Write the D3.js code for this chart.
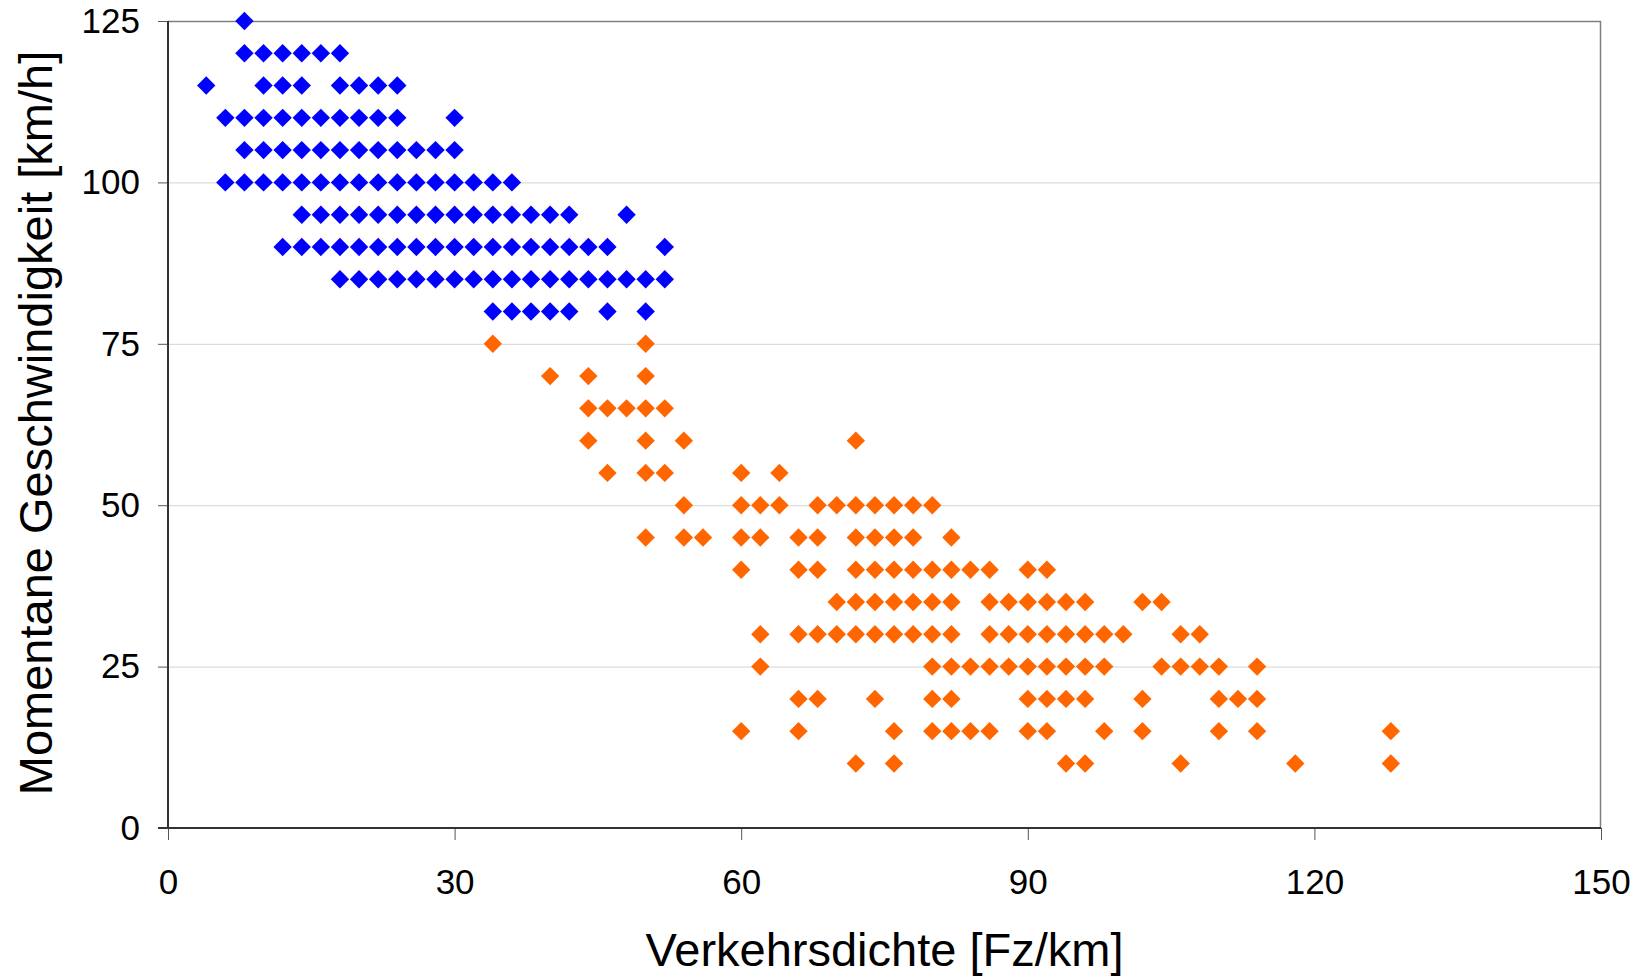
<!DOCTYPE html>
<html>
<head>
<meta charset="utf-8">
<script src="https://cdn.jsdelivr.net/npm/d3@7"></script>
<style>
  html, body { margin: 0; padding: 0; background: #fff; }
  svg { display: block; }
  text { font-family: "Liberation Sans", Arial, sans-serif; fill: #000; }
</style>
</head>
<body>
<svg id="chart" width="1649" height="978"></svg>
<script>
// ---- Data ----
const xTicks = [0, 30, 60, 90, 120, 150];
const yTicks = [0, 25, 50, 75, 100, 125];

// Blue series (free flow): speed rows and densities at each row
const blueSpeeds = [125, 120, 115, 110, 105, 100, 95, 90, 85, 80];
const blueDensities = [
  [8],
  [8, 10, 12, 14, 16, 18],
  [4, 10, 12, 14, 18, 20, 22, 24],
  [6, 8, 10, 12, 14, 16, 18, 20, 22, 24, 30],
  [8, 10, 12, 14, 16, 18, 20, 22, 24, 26, 28, 30],
  [6, 8, 10, 12, 14, 16, 18, 20, 22, 24, 26, 28, 30, 32, 34, 36],
  [14, 16, 18, 20, 22, 24, 26, 28, 30, 32, 34, 36, 38, 40, 42, 48],
  [12, 14, 16, 18, 20, 22, 24, 26, 28, 30, 32, 34, 36, 38, 40, 42, 44, 46, 52],
  [18, 20, 22, 24, 26, 28, 30, 32, 34, 36, 38, 40, 42, 44, 46, 48, 50, 52],
  [34, 36, 38, 40, 42, 46, 50]
];

// Orange series (congested): speed rows and densities at each row
const orangeSpeeds = [75, 70, 65, 60, 55, 50, 45, 40, 35, 30, 25, 20, 15, 10];
const orangeDensities = [
  [34, 50],
  [40, 44, 50],
  [44, 46, 48, 50, 52],
  [44, 50, 54, 72],
  [46, 50, 52, 60, 64],
  [54, 60, 62, 64, 68, 70, 72, 74, 76, 78, 80],
  [50, 54, 56, 60, 62, 66, 68, 72, 74, 76, 78, 82],
  [60, 66, 68, 72, 74, 76, 78, 80, 82, 84, 86, 90, 92],
  [70, 72, 74, 76, 78, 80, 82, 86, 88, 90, 92, 94, 96, 102, 104],
  [62, 66, 68, 70, 72, 74, 76, 78, 80, 82, 86, 88, 90, 92, 94, 96, 98, 100, 106, 108],
  [62, 80, 82, 84, 86, 88, 90, 92, 94, 96, 98, 104, 106, 108, 110, 114],
  [66, 68, 74, 80, 82, 90, 92, 94, 96, 102, 110, 112, 114],
  [60, 66, 76, 80, 82, 84, 86, 90, 92, 98, 102, 110, 114, 128],
  [72, 76, 94, 96, 106, 118, 128]
];

const xTitle = "Verkehrsdichte [Fz/km]";
const yTitle = "Momentane Geschwindigkeit [km/h]";

// ---- Build points ----
function toPoints(speeds, dens) {
  const pts = [];
  speeds.forEach((s, i) => dens[i].forEach(d => pts.push({ x: d, y: s })));
  return pts;
}
const bluePts = toPoints(blueSpeeds, blueDensities);
const orangePts = toPoints(orangeSpeeds, orangeDensities);

// ---- Layout ----
const L = 168, R = 1601, T = 21, B = 828;
const svg = d3.select("#chart");
svg.append("rect").attr("width", 1649).attr("height", 978).attr("fill", "#fff");

const x = d3.scaleLinear().domain([0, 150]).range([L, R]);
const y = d3.scaleLinear().domain([0, 125]).range([B, T]);

// gridlines
svg.append("g").selectAll("line")
  .data(yTicks.filter(v => v > 0 && v < 125))
  .join("line")
  .attr("x1", L).attr("x2", R)
  .attr("y1", d => y(d) + 0.5).attr("y2", d => y(d) + 0.5)
  .attr("stroke", "#d4d4d4").attr("stroke-width", 1);

// top & right border
svg.append("line").attr("x1", L).attr("x2", R).attr("y1", T + 0.5).attr("y2", T + 0.5)
  .attr("stroke", "#808080").attr("stroke-width", 1.5);
svg.append("line").attr("x1", R - 0.5).attr("x2", R - 0.5).attr("y1", T).attr("y2", B)
  .attr("stroke", "#808080").attr("stroke-width", 1.5);

// axes
const yAxis = d3.axisLeft(y).tickValues(yTicks).tickSize(10).tickPadding(18).tickSizeOuter(0);
const xAxis = d3.axisBottom(x).tickValues(xTicks).tickSize(12).tickPadding(29).tickSizeOuter(0);

const gy = svg.append("g").attr("transform", `translate(${L},0)`).call(yAxis);
const gx = svg.append("g").attr("transform", `translate(0,${B})`).call(xAxis);
[gx, gy].forEach(g => {
  g.select(".domain").remove();
  g.selectAll(".tick line").attr("stroke", "#555").attr("stroke-width", 1);
  g.selectAll(".tick text")
    .attr("font-family", '"Liberation Sans", Arial, sans-serif')
    .attr("font-size", 35).attr("fill", "#000");
});

// axis lines
svg.append("line").attr("x1", L).attr("x2", L).attr("y1", T).attr("y2", B + 1)
  .attr("stroke", "#333").attr("stroke-width", 2);
svg.append("line").attr("x1", L - 10).attr("x2", R).attr("y1", B).attr("y2", B)
  .attr("stroke", "#333").attr("stroke-width", 2);

// diamonds
const r = 9.2;
const diamond = `M0,${-r}L${r},0L0,${r}L${-r},0Z`;
function drawSeries(pts, color) {
  svg.append("g").selectAll("path")
    .data(pts)
    .join("path")
    .attr("d", diamond)
    .attr("transform", d => `translate(${x(d.x)},${y(d.y)})`)
    .attr("fill", color);
}
drawSeries(bluePts, "#0000ff");
drawSeries(orangePts, "#ff6600");

// titles
svg.append("text")
  .attr("x", (L + R) / 2).attr("y", 966)
  .attr("text-anchor", "middle")
  .attr("font-size", 47)
  .text(xTitle);

svg.append("text")
  .attr("transform", `translate(52,${423}) rotate(-90)`)
  .attr("text-anchor", "middle")
  .attr("font-size", 47)
  .text(yTitle);
</script>
</body>
</html>
